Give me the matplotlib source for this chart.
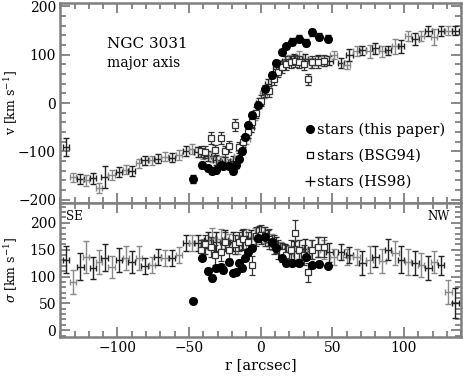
import numpy as np
import matplotlib
matplotlib.use("Agg")
import matplotlib.pyplot as plt
from matplotlib.lines import Line2D
from matplotlib.ticker import MultipleLocator

plt.rcParams['font.family'] = ['DejaVu Serif']
plt.rcParams['mathtext.fontset'] = 'dejavuserif'

# --- stars (this paper): filled circles ---
r_this = [-47, -41, -37, -34, -31, -28, -26, -22, -19, -17, -15, -13, -11, -9, -6, -2,
          3, 8, 11, 15, 18, 22, 27, 32, 36, 41, 47]
v_this = [-158, -129, -135, -141, -139, -129, -131, -130, -141, -129, -115, -100, -70, -45,
          -25, -5, 30, 58, 83, 105, 117, 127, 133, 125, 146, 137, 133]
ev_this = [8, 6, 6, 6, 6, 6, 6, 6, 7, 6, 6, 6, 6, 6, 6, 6, 6, 6, 6, 6, 6, 7, 7, 8, 8, 7, 7]
s_this = [54, 135, 110, 97, 116, 118, 112, 127, 107, 108, 125, 116, 135, 146, 153, 172,
          174, 164, 153, 135, 125, 125, 125, 136, 121, 123, 120]
es_this = [4, 5, 6, 6, 5, 5, 5, 5, 5, 5, 5, 5, 5, 5, 5, 5, 5, 5, 5, 5, 5, 5, 5, 5, 5, 5, 5]

# --- stars (BSG94): open squares ---
r_bsg = [-42, -39, -35, -32, -28, -25, -22, -18, -15, -12, -9, -6, -3, 0, 3, 6, 9, 12,
         15, 18, 21, 24, 27, 30, 33, 36, 40, 44]
v_bsg = [-100, -102, -72, -98, -72, -100, -90, -46, -92, -80, -60, -40, -20, 5, 25, 24,
         50, 65, 75, 80, 85, 87, 85, 80, 49, 85, 85, 88]
ev_bsg = [12, 12, 12, 12, 12, 12, 12, 12, 12, 12, 12, 12, 12, 12, 12, 12, 12, 12, 12,
          12, 12, 12, 12, 12, 12, 12, 12, 12]
s_bsg = [150, 160, 155, 140, 146, 165, 150, 160, 165, 170, 165, 121, 175, 178, 175, 170,
         160, 150, 145, 140, 150, 181, 150, 140, 108, 150, 155, 155]
es_bsg = [18, 18, 18, 18, 18, 18, 18, 18, 18, 18, 18, 18, 18, 18, 18, 18, 18, 18, 18,
          18, 18, 25, 18, 18, 18, 18, 18, 18]

# --- stars (HS98): crosses ---
r_hs = [-136, -131, -126, -122, -117, -113, -109, -104, -99, -94, -90, -85, -81, -76,
        -72, -67, -62, -57, -52, -48, -44, -40,
        -37, -34, -31, -28, -25, -22, -19, -16, -13, -10, -7, -4, -1, 2, 5, 8, 11, 14,
        17, 20, 23, 27, 31, 35, 40, 44, 48,
        51, 56, 60, 62, 67, 71, 76, 80, 85, 89, 94, 98, 103, 108, 112, 117, 121, 126,
        131, 136]
v_hs = [-91, -154, -158, -160, -156, -176, -154, -149, -143, -138, -141, -125, -119, -119,
        -115, -111, -113, -108, -99, -95, -101, -105,
        -110, -112, -118, -120, -122, -125, -120, -110, -95, -75, -50, -25, 0, 20, 40,
        55, 70, 80, 88, 90, 92, 97, 92, 83, 89, 87, 88,
        99, 83, 79, 99, 107, 109, 107, 113, 107, 109, 117, 117, 139, 133, 139, 149,
        137, 149, 150, 150]
ev_hs = [18, 10, 10, 11, 11, 10, 23, 10, 10, 9, 10, 9, 10, 10, 9, 10, 9, 10, 10, 10, 10, 10,
         10, 10, 10, 10, 10, 10, 10, 10, 10, 10, 10, 10, 10, 10, 10, 10, 10, 10, 10, 10,
         10, 10, 10, 10, 10, 10, 10,
         8, 10, 9, 12, 10, 10, 13, 12, 11, 9, 16, 14, 10, 12, 10, 10, 16, 10, 10, 9]
s_hs = [131, 90, 118, 137, 116, 127, 135, 118, 131, 135, 127, 135, 120, 121, 137, 135, 135,
        140, 162, 162, 162, 155,
        168, 172, 165, 170, 168, 162, 165, 160, 168, 170, 172, 176, 180, 178, 172, 165,
        158, 150, 145, 142, 148, 150, 152, 150, 155, 150, 145,
        137, 146, 137, 140, 137, 125, 131, 137, 129, 150, 144, 131, 127, 125, 121, 116,
        127, 121, 71, 50]
es_hs = [25, 22, 25, 30, 20, 22, 25, 20, 22, 22, 20, 22, 15, 15, 15, 15, 15, 15, 15, 15,
         15, 15,
         15, 18, 18, 18, 18, 18, 18, 18, 18, 18, 15, 15, 15, 15, 15, 15, 15, 15, 15, 15,
         18, 18, 18, 18, 18, 18, 18,
         15, 15, 15, 15, 15, 22, 25, 20, 22, 20, 22, 25, 25, 22, 22, 22, 20, 18, 22, 28]

GRAY = '#7f7f7f'


def style_axis(ax):
    for sp in ax.spines.values():
        sp.set_color(GRAY)
        sp.set_linewidth(1.8)
    ax.tick_params(which='both', direction='in', top=True, right=True, color=GRAY,
                   width=1.3, labelsize=10, pad=3)
    ax.tick_params(which='major', length=7)
    ax.tick_params(which='minor', length=4)
    ax.xaxis.set_major_locator(MultipleLocator(50))
    ax.xaxis.set_minor_locator(MultipleLocator(10))
    ax.set_xlim(-140, 140)


def plot_hs(ax, x, y, e):
    cols = ['#222222', '#888888']
    for i in range(len(x)):
        ax.errorbar(x[i], y[i], yerr=e[i], xerr=2.3, fmt='none', ecolor=cols[i % 2],
                    elinewidth=1.0, capsize=2.2, capthick=1.0, zorder=2)


def plot_all(ax, y_this, e_this, y_bsg, e_bsg, y_hs, e_hs):
    plot_hs(ax, r_hs, y_hs, e_hs)
    ax.errorbar(r_bsg, y_bsg, yerr=e_bsg, fmt='s', ms=4.5, mfc='white', mec='#333333',
                mew=0.9, ecolor='#333333', elinewidth=0.9, capsize=2.2, zorder=3)
    ax.errorbar(r_this, y_this, yerr=e_this, fmt='o', ms=5.5, color='black',
                ecolor='black', elinewidth=0.9, capsize=2, zorder=4)


fig = plt.figure(figsize=(4.63, 3.78), dpi=100)
ax1 = fig.add_axes([0.13, 0.463, 0.866, 0.529])
ax2 = fig.add_axes([0.13, 0.108, 0.866, 0.355])

# top panel: velocity
plot_all(ax1, v_this, ev_this, v_bsg, ev_bsg, v_hs, ev_hs)
style_axis(ax1)
ax1.set_ylim(-207, 207)
ax1.yaxis.set_major_locator(MultipleLocator(100))
ax1.yaxis.set_minor_locator(MultipleLocator(20))
ax1.set_xticklabels([])
ax1.set_ylabel(r'v [km s$^{-1}$]', fontsize=9)
ax1.yaxis.set_label_coords(-0.1, 0.5)
ax1.text(-107, 123, 'NGC 3031', fontsize=11, ha='left', va='center')
ax1.text(-107, 83, 'major axis', fontsize=10, ha='left', va='center')

handles = [Line2D([], [], ls='none', marker='o', ms=5.5, color='black'),
           Line2D([], [], ls='none', marker='s', ms=5, mfc='white', mec='black', mew=0.9),
           Line2D([], [], ls='none', marker='+', ms=7, color='black', mew=0.9)]
labels = ['stars (this paper)', 'stars (BSG94)', 'stars (HS98)']
ax1.legend(handles, labels, loc='lower right', bbox_to_anchor=(0.985, 0.02),
           frameon=False, fontsize=10.5, handlelength=0.6, handletextpad=0.2,
           labelspacing=0.8, borderaxespad=0.3)

# bottom panel: dispersion
plot_all(ax2, s_this, es_this, s_bsg, es_bsg, s_hs, es_hs)
style_axis(ax2)
ax2.set_ylim(-13, 237)
ax2.yaxis.set_major_locator(MultipleLocator(50))
ax2.yaxis.set_minor_locator(MultipleLocator(10))
ax2.set_ylabel(r'$\sigma$ [km s$^{-1}$]', fontsize=9)
ax2.yaxis.set_label_coords(-0.1, 0.5)
ax2.set_xlabel('r [arcsec]', fontsize=10.5, labelpad=2)
ax2.text(-136, 212, 'SE', fontsize=8.5, ha='left', va='center')
ax2.text(132, 212, 'NW', fontsize=8.5, ha='right', va='center')

fig.savefig('out.png', dpi=100)
